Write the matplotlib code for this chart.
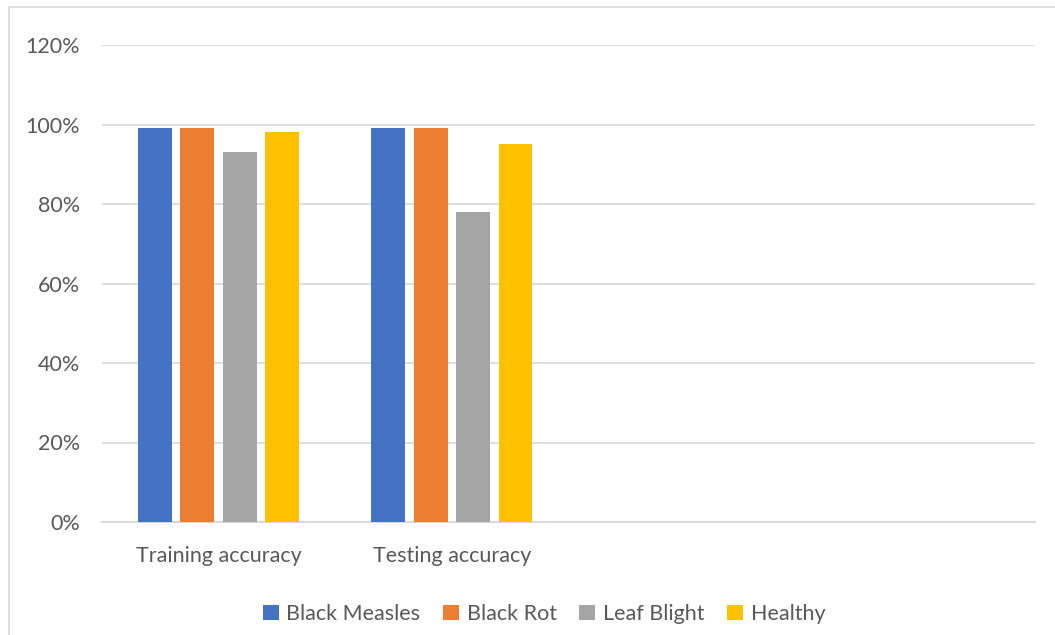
import matplotlib.pyplot as plt
import numpy as np
from matplotlib.patches import Rectangle
from matplotlib.ticker import FuncFormatter

categories = ["Training accuracy", "Testing accuracy", "", ""]
black_measles = [0.99, 0.99]
black_rot = [0.99, 0.99]
leaf_blight = [0.93, 0.78]
healthy = [0.98, 0.95]

series = [
    ("Black Measles", black_measles, "#4472C4"),
    ("Black Rot", black_rot, "#ED7D31"),
    ("Leaf Blight", leaf_blight, "#A5A5A5"),
    ("Healthy", healthy, "#FFC000"),
]

plt.rcParams["font.family"] = ["Lato", "DejaVu Sans"]
text_color = "#595959"
grid_color = "#D9D9D9"
font_size = 15.5

fig = plt.figure(figsize=(10.55, 6.35), dpi=100)
fig.patches.append(
    Rectangle((9 / 1055, -0.1), 1.2, 1 - 7 / 635 + 0.1, transform=fig.transFigure,
              fill=False, edgecolor="#D9D9D9", linewidth=1.2)
)
ax = fig.add_axes([102 / 1055, 113 / 635, 933 / 1055, 477 / 635])

x = np.arange(len(categories))
bar_width = 0.145
step = 0.182
for i, (name, values, color) in enumerate(series):
    ax.bar(x[: len(values)] + (i - 1.5) * step, values, width=bar_width,
           color=color, label=name, zorder=3)

ax.set_xlim(-0.5, len(categories) - 0.5)
ax.set_ylim(0, 1.2)
ax.set_yticks(np.arange(0, 1.21, 0.2))
ax.yaxis.set_major_formatter(FuncFormatter(lambda v, _: f"{v * 100:.0f}%"))
ax.set_xticks(x)
ax.set_xticklabels(categories)
ax.grid(axis="y", color=grid_color, linewidth=1.2, zorder=0)
for side in ["top", "right", "left"]:
    ax.spines[side].set_visible(False)
ax.spines["bottom"].set_color(grid_color)
ax.spines["bottom"].set_linewidth(1.5)
ax.tick_params(axis="both", length=0, labelsize=font_size, colors=text_color)
ax.tick_params(axis="y", pad=16)
ax.tick_params(axis="x", pad=17)

ax.legend(loc="center", bbox_to_anchor=(544 / 1055, 21 / 635),
          bbox_transform=fig.transFigure, ncol=4, frameon=False,
          fontsize=font_size, labelcolor=text_color, handlelength=0.75,
          handleheight=0.75, handletextpad=0.35, columnspacing=1.05)

fig.savefig("out.png", dpi=100)
